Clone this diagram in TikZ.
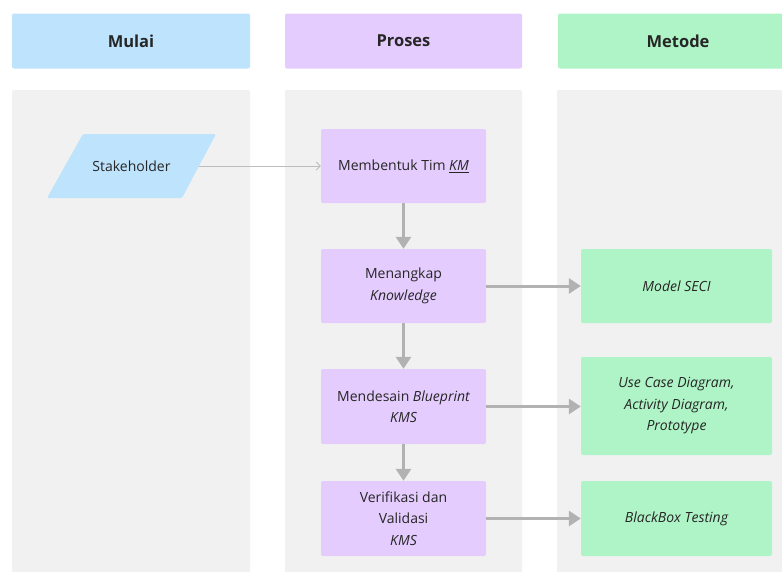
\documentclass[tikz,border=0pt]{standalone}
\usepackage{fontspec}
\setmainfont{Open Sans}
\usetikzlibrary{arrows.meta}
\definecolor{hblue}{HTML}{BEE3FD}
\definecolor{hpurple}{HTML}{E5CCFE}
\definecolor{hgreen}{HTML}{AFF4C6}
\definecolor{panelgray}{HTML}{F1F1F1}
\definecolor{ink}{HTML}{262626}
\definecolor{arrowgray}{HTML}{B2B2B2}
\definecolor{thingray}{HTML}{BDBDBD}
\begin{document}
\begin{tikzpicture}[x=1pt,y=-1pt,
  hdr/.style={rounded corners=2pt, inner sep=0pt, text=ink,
    font=\fontsize{16.5}{20}\selectfont\bfseries},
  panel/.style={fill=panelgray, rounded corners=2pt, inner sep=0pt},
  body/.style={text=ink, font=\fontsize{14}{21.5}\selectfont, align=center},
  procbox/.style={body, fill=hpurple, rounded corners=2pt, inner sep=0pt,
    minimum width=165pt},
  methbox/.style={body, fill=hgreen, rounded corners=2pt, inner sep=0pt,
    minimum width=191pt},
  flow/.style={draw=arrowgray, line width=3pt,
    -{Triangle[length=12pt,width=15pt]}},
  feed/.style={draw=thingray, line width=0.8pt,
    -{Straight Barb[length=4pt,width=8pt]}}]
\useasboundingbox (0,0) rectangle (782,571);
\fill[white] (0,0) rectangle (782,571);
\clip (0,0) rectangle (782,571);

% column headers
\node[hdr, fill=hblue, minimum width=238pt, minimum height=55pt] (hmulai) at (131,41) {Mulai};
\node[hdr, fill=hpurple, minimum width=237pt, minimum height=55pt] (hproses) at (403.5,41) {Proses};
\node[hdr, fill=hgreen, minimum width=240pt, minimum height=55pt] (hmetode) at (678,41) {Metode};

% column panels
\node[panel, minimum width=238pt, minimum height=490pt] (pmulai) at (131,335) {};
\node[panel, minimum width=237pt, minimum height=490pt] (pproses) at (403.5,335) {};
\node[panel, minimum width=240pt, minimum height=490pt] (pmetode) at (677,335) {};

% start: stakeholder (parallelogram)
\fill[hblue, rounded corners=1.5pt] (83,134) -- (216,134) -- (182,198) -- (47,198) -- cycle;
\node[body] (stake) at (131.5,166) {Stakeholder};
\coordinate (stakeout) at (199,166);

% process steps
\node[procbox, minimum height=74pt] (p1) at (403.5,166) {Membentuk Tim \underline{\itshape KM}};
\node[procbox, minimum height=74pt] (p2) at (403.5,286) {Menangkap\\\itshape Knowledge};
\node[procbox, minimum height=75pt] (p3) at (403.5,406.5) {Mendesain \itshape Blueprint\\\itshape KMS};
\node[procbox, minimum height=75pt] (p4) at (403.5,518.5) {Verifikasi dan\\Validasi\\\itshape KMS};

% methods
\node[methbox, minimum height=74pt] (m1) at (676.5,286) {\itshape Model SECI};
\node[methbox, minimum height=98pt] (m2) at (676.5,406) {\itshape Use Case Diagram,\\\itshape Activity Diagram,\\\itshape Prototype};
\node[methbox, minimum height=75pt] (m3) at (676.5,518.5) {\itshape BlackBox Testing};

% connectors
\draw[feed] (stakeout) -- (p1.west);
\draw[flow] (p1) -- (p2);
\draw[flow] (p2) -- (p3);
\draw[flow] (p3) -- (p4);
\draw[flow] (p2) -- (m1);
\draw[flow] (p3.east) -- (p3.east -| m2.west);
\draw[flow] (p4) -- (m3);
\end{tikzpicture}
\end{document}
